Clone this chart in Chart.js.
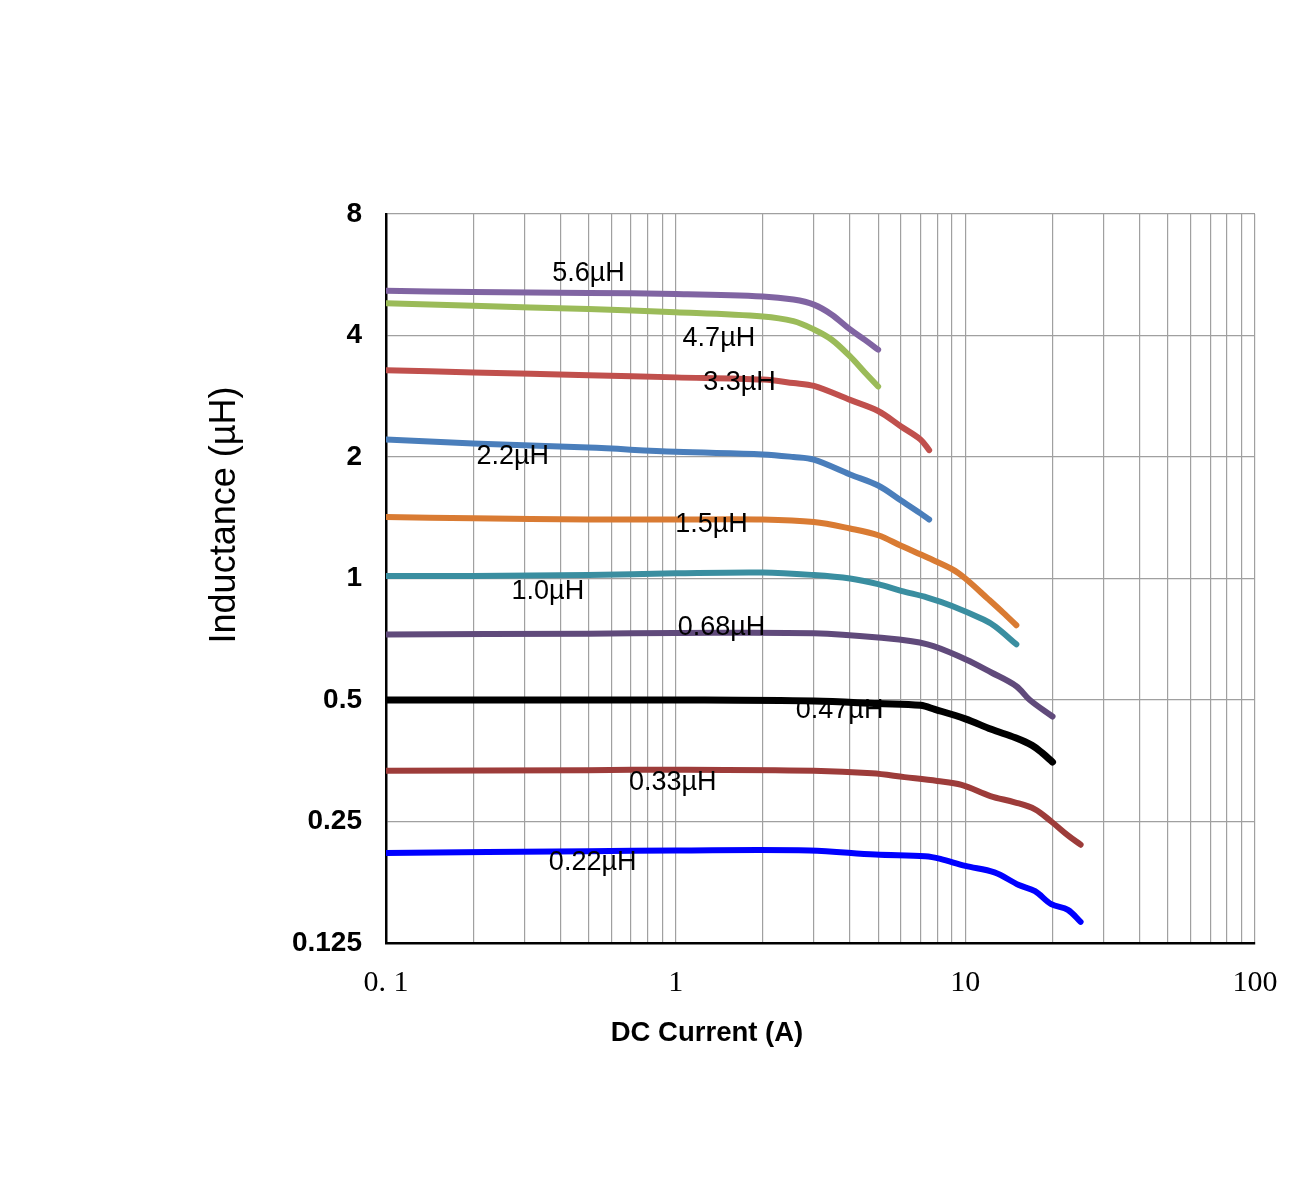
<!DOCTYPE html>
<html>
<head>
<meta charset="utf-8">
<script src="https://cdn.jsdelivr.net/npm/chart.js@4.4.1/dist/chart.umd.min.js"></script>
<style>
  body { margin: 0; background: #fff; }
  canvas { display: block; }
</style>
</head>
<body>
<canvas id="chart" width="1300" height="1200"></canvas>
<script>
// Inductance vs DC current, one x/y pair per part
const seriesNames = ["5.6µH", "4.7µH", "3.3µH", "2.2µH", "1.5µH", "1.0µH", "0.68µH", "0.47µH", "0.33µH", "0.22µH"];
const seriesColors = ["#8064a2", "#9bbb59", "#c0504d", "#4a7ebb", "#d97b33", "#3a8ea0", "#604a7b", "#000000", "#9d3c3a", "#0000ff"];

const current56 = [0.1, 0.2, 0.5, 1, 2, 2.55, 3, 3.45, 4, 4.5, 5];
const induct56  = [5.16, 5.13, 5.1, 5.07, 5.0, 4.91, 4.77, 4.51, 4.14, 3.9, 3.69];

const current47 = [0.1, 0.2, 0.5, 1, 2, 2.55, 3, 3.45, 4, 4.5, 5];
const induct47  = [4.81, 4.74, 4.65, 4.57, 4.46, 4.34, 4.14, 3.91, 3.55, 3.24, 2.99];

const current33 = [0.1, 0.2, 0.5, 1, 2, 2.55, 3, 4, 5, 6, 7, 7.5];
const induct33  = [3.28, 3.24, 3.19, 3.15, 3.11, 3.05, 3.0, 2.77, 2.6, 2.38, 2.21, 2.08];

const current22 = [0.1, 0.2, 0.5, 1, 2, 2.55, 3, 4, 5, 6, 7, 7.5];
const induct22  = [2.21, 2.16, 2.11, 2.06, 2.03, 2.0, 1.97, 1.81, 1.7, 1.56, 1.45, 1.4];

const current15 = [0.1, 0.2, 0.5, 1, 2, 3, 4, 5, 6, 7.4, 9, 10, 12, 13.5, 15];
const induct15  = [1.42, 1.41, 1.4, 1.4, 1.4, 1.38, 1.33, 1.28, 1.205, 1.127, 1.055, 1.0, 0.889, 0.823, 0.766];

const current10 = [0.1, 0.2, 0.5, 1, 2, 3, 4, 5, 6, 7.4, 9, 11.6, 12.7, 15];
const induct10  = [1.015, 1.015, 1.02, 1.03, 1.035, 1.02, 1.0, 0.968, 0.932, 0.897, 0.855, 0.79, 0.76, 0.687];

const current068 = [0.1, 0.5, 1, 3, 5, 7.4, 10, 12.3, 15, 16.7, 20];
const induct068  = [0.727, 0.73, 0.733, 0.732, 0.714, 0.687, 0.631, 0.585, 0.541, 0.5, 0.455];

const current047 = [0.1, 0.5, 1, 3, 5, 7, 7.85, 10, 12.3, 14.9, 17, 18.4, 20];
const induct047  = [0.5, 0.5, 0.5, 0.497, 0.49, 0.485, 0.474, 0.449, 0.423, 0.403, 0.386, 0.37, 0.351];

const current033 = [0.1, 0.5, 1, 3, 4.76, 6.17, 8, 9.7, 12.2, 14.8, 17.4, 19.8, 22.6, 25];
const induct033  = [0.334, 0.335, 0.336, 0.334, 0.329, 0.322, 0.315, 0.308, 0.289, 0.279, 0.268, 0.25, 0.231, 0.219];

const current022 = [0.1, 0.5, 1, 2.9, 4.9, 7.27, 8.2, 10, 12.6, 15.3, 17.4, 19.8, 22.6, 25];
const induct022  = [0.209, 0.211, 0.212, 0.212, 0.207, 0.205, 0.202, 0.194, 0.187, 0.174, 0.168, 0.156, 0.151, 0.141];

const currents = [current56, current47, current33, current22, current15, current10, current068, current047, current033, current022];
const inducts  = [induct56, induct47, induct33, induct22, induct15, induct10, induct068, induct047, induct033, induct022];

// where each part's name sits, in data units
const labelCurrent = [0.5, 1.41, 1.66, 0.274, 1.33, 0.362, 1.44, 3.68, 0.977, 0.517];
const labelInduct  = [5.71, 3.92, 3.05, 2.01, 1.357, 0.926, 0.754, 0.472, 0.313, 0.198];

// axes
const yTicks = [0.125, 0.25, 0.5, 1, 2, 4, 8];
const yTickLabels = ["0.125", "0.25", "0.5", "1", "2", "4", "8"];
const xDecades = [0.1, 1, 10, 100];
const xTickLabels = ["0. 1", "1", "10", "100"];

const xGrid = [];
for (let d = 0; d < 3; d++) {
    for (let m = 1; m < 10; m++) xGrid.push(+(m * xDecades[d]).toPrecision(3));
}
xGrid.push(100);

const datasets = seriesNames.map((name, i) => ({
    label: name,
    data: currents[i].map((c, k) => ({x: c, y: inducts[i][k]})),
    borderColor: seriesColors[i],
    borderWidth: i === 7 ? 7 : 6,
    borderCapStyle: "round",
    borderJoinStyle: "round",
    pointRadius: 0,
    tension: 0.35,
    fill: false
}));

const textPlugin = {
    id: "texts",
    afterDatasetsDraw(chart) {
        const ctx = chart.ctx;
        const xs = chart.scales.x, ys = chart.scales.y;
        ctx.save();
        ctx.fillStyle = "#000";
        ctx.textAlign = "center";
        ctx.textBaseline = "middle";
        ctx.font = "27px 'Liberation Sans', Arial, sans-serif";
        seriesNames.forEach((name, i) => {
            ctx.fillText(name, xs.getPixelForValue(labelCurrent[i]), ys.getPixelForValue(labelInduct[i]));
        });
        // axis titles
        ctx.font = "bold 27.5px 'Liberation Sans', Arial, sans-serif";
        ctx.fillText("DC Current (A)", 707, 1033);
        ctx.translate(225, 515);
        ctx.rotate(-Math.PI / 2);
        ctx.font = "36px 'Liberation Sans', Arial, sans-serif";
        ctx.fillText("Inductance (µH)", 0, 0);
        ctx.restore();
    }
};

new Chart(document.getElementById("chart"), {
    type: "line",
    data: { datasets },
    options: {
        responsive: false,
        animation: false,
        layout: { padding: { top: 214, right: 45, left: 0, bottom: 0 } },
        plugins: { legend: { display: false }, tooltip: { enabled: false } },
        scales: {
            x: {
                type: "logarithmic",
                min: 0.1,
                max: 100,
                afterBuildTicks: s => { s.ticks = xGrid.map(v => ({value: v})); },
                afterFit: s => { s.height = 257; },
                grid: { color: "#a0a0a0", lineWidth: 1.2, drawTicks: false },
                border: { display: true, color: "#000", width: 2.5 },
                ticks: {
                    autoSkip: false,
                    maxRotation: 0,
                    padding: 22,
                    color: "#000",
                    font: { family: "'Liberation Serif', 'Times New Roman', serif", size: 30 },
                    callback: v => {
                        const k = xDecades.indexOf(v);
                        return k >= 0 ? xTickLabels[k] : "";
                    }
                }
            },
            y: {
                type: "logarithmic",
                min: 0.125,
                max: 8,
                afterBuildTicks: s => { s.ticks = yTicks.map(v => ({value: v})); },
                afterFit: s => { s.width = 386; },
                grid: { color: "#a0a0a0", lineWidth: 1.2, drawTicks: false },
                border: { display: true, color: "#000", width: 2.5 },
                ticks: {
                    autoSkip: false,
                    padding: 24,
                    color: "#000",
                    font: { family: "'Liberation Sans', Arial, sans-serif", size: 28, weight: "bold" },
                    callback: v => {
                        const k = yTicks.indexOf(v);
                        return k >= 0 ? yTickLabels[k] : "";
                    }
                }
            }
        }
    },
    plugins: [textPlugin]
});
</script>
</body>
</html>
